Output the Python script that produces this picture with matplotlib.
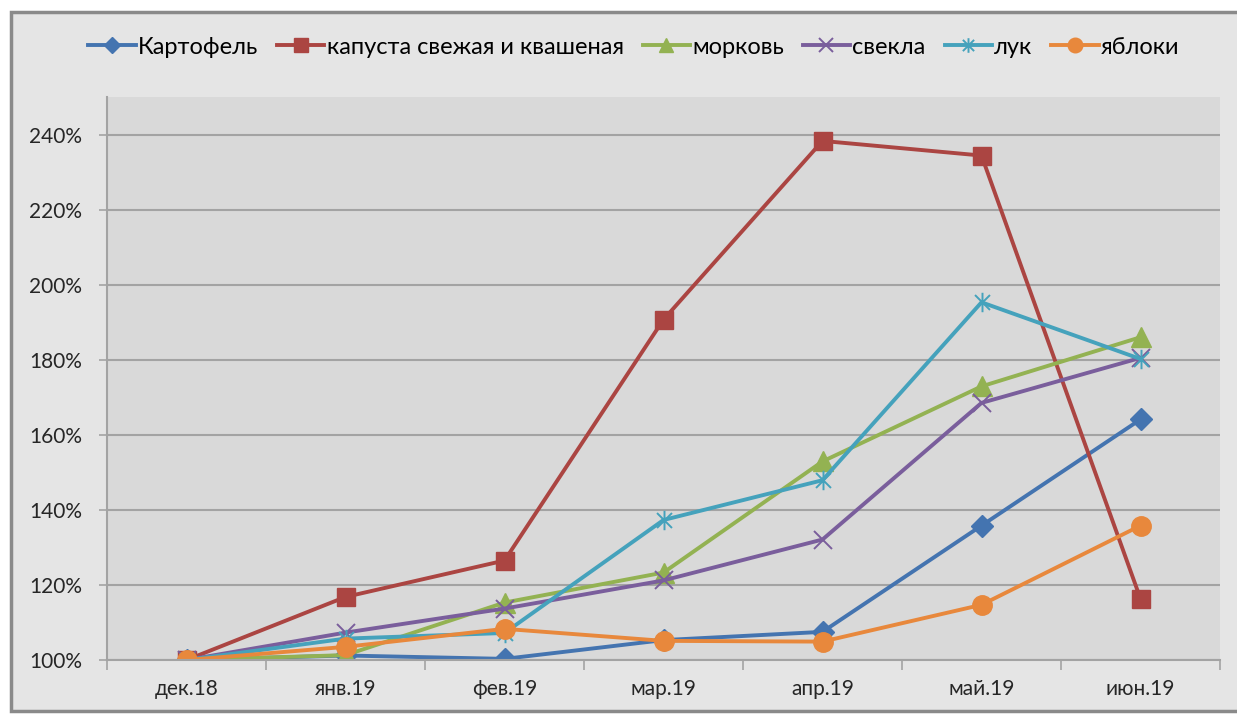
import matplotlib.pyplot as plt
import numpy as np
from matplotlib.patches import Rectangle
from matplotlib.path import Path
from matplotlib.ticker import PercentFormatter

plt.rcParams['font.family'] = ['Lato', 'DejaVu Sans']

months = ['дек.18', 'янв.19', 'фев.19', 'мар.19', 'апр.19', 'май.19', 'июн.19']

potato = [1.000, 1.012, 1.003, 1.053, 1.075, 1.358, 1.641]
cabbage = [1.000, 1.168, 1.265, 1.907, 2.383, 2.344, 1.163]
carrot = [1.000, 1.013, 1.153, 1.233, 1.529, 1.729, 1.860]
beet = [1.000, 1.073, 1.137, 1.212, 1.321, 1.685, 1.805]
onion = [1.000, 1.057, 1.072, 1.373, 1.479, 1.953, 1.802]
apples = [1.000, 1.035, 1.083, 1.051, 1.049, 1.147, 1.358]

names = ['Картофель', 'капуста свежая и квашеная', 'морковь', 'свекла', 'лук', 'яблоки']

# Excel-like asterisk marker: "x" with a vertical bar
star = Path([(-1, -1), (1, 1), (-1, 1), (1, -1), (0, -1.3), (0, 1.3)],
            [Path.MOVETO, Path.LINETO, Path.MOVETO, Path.LINETO, Path.MOVETO, Path.LINETO])

styles = [
    dict(color='#4474B0', marker='D', ms=11),
    dict(color='#AB4542', marker='s', ms=13),
    dict(color='#93B252', marker='^', ms=14),
    dict(color='#7A5E9C', marker='x', ms=13, mew=1.4),
    dict(color='#45A2BC', marker=star, ms=14, mew=1.4),
    dict(color='#E8883C', marker='o', ms=14),
]

W, H = 1237, 714
fig = plt.figure(figsize=(W / 100, H / 100), dpi=100, facecolor='white')

# chart frame
fig.patches.append(Rectangle((11 / W, 0.004), 1.2, 1 - 12 / H - 0.004, transform=fig.transFigure,
                             facecolor='#e5e5e5', edgecolor='#8a8a8a', linewidth=2.5, zorder=-1))

ax = fig.add_axes([107 / W, 54 / H, 1113 / W, 563 / H])
ax.set_zorder(1)
ax.set_facecolor('#d9d9d9')

x = np.arange(len(months))
series = [potato, cabbage, carrot, beet, onion, apples]
for vals, name, st in zip(series, names, styles):
    ax.plot(x, vals, label=name, lw=2.8, mfc=st['color'], mec=st['color'], **st)

ax.set_xlim(-0.5, len(months) - 0.5)
ax.set_ylim(1.0, 2.5)
ax.set_yticks(np.arange(1.0, 2.41, 0.2))
ax.yaxis.set_major_formatter(PercentFormatter(1.0, decimals=0))
ax.grid(axis='y', color='#a3a3a3', lw=1.5)
ax.set_axisbelow(True)

ax.set_xticks(x)
ax.set_xticklabels(months, fontsize=15, color='#262626')
ax.set_xticks(np.arange(-0.5, len(months)), minor=True)
ax.tick_params(axis='x', which='major', length=0, pad=14)
ax.tick_params(axis='x', which='minor', length=7, color='#a3a3a3', width=1.2)
ax.tick_params(axis='y', length=6, color='#a3a3a3', width=1.2, labelsize=15, labelcolor='#262626', pad=12)

for s in ['top', 'right']:
    ax.spines[s].set_visible(False)
ax.spines['left'].set_color('#a3a3a3')
ax.spines['left'].set_linewidth(1.5)
ax.spines['bottom'].set_color('#a3a3a3')
ax.spines['bottom'].set_linewidth(1.5)

fig.legend(loc='center', bbox_to_anchor=(634 / W, 1 - 47 / H), ncol=6, frameon=False,
           fontsize=17, handlelength=2.0, handletextpad=0.1, columnspacing=0.8, markerscale=0.75)

fig.savefig('out.png', dpi=100, facecolor=fig.get_facecolor())
